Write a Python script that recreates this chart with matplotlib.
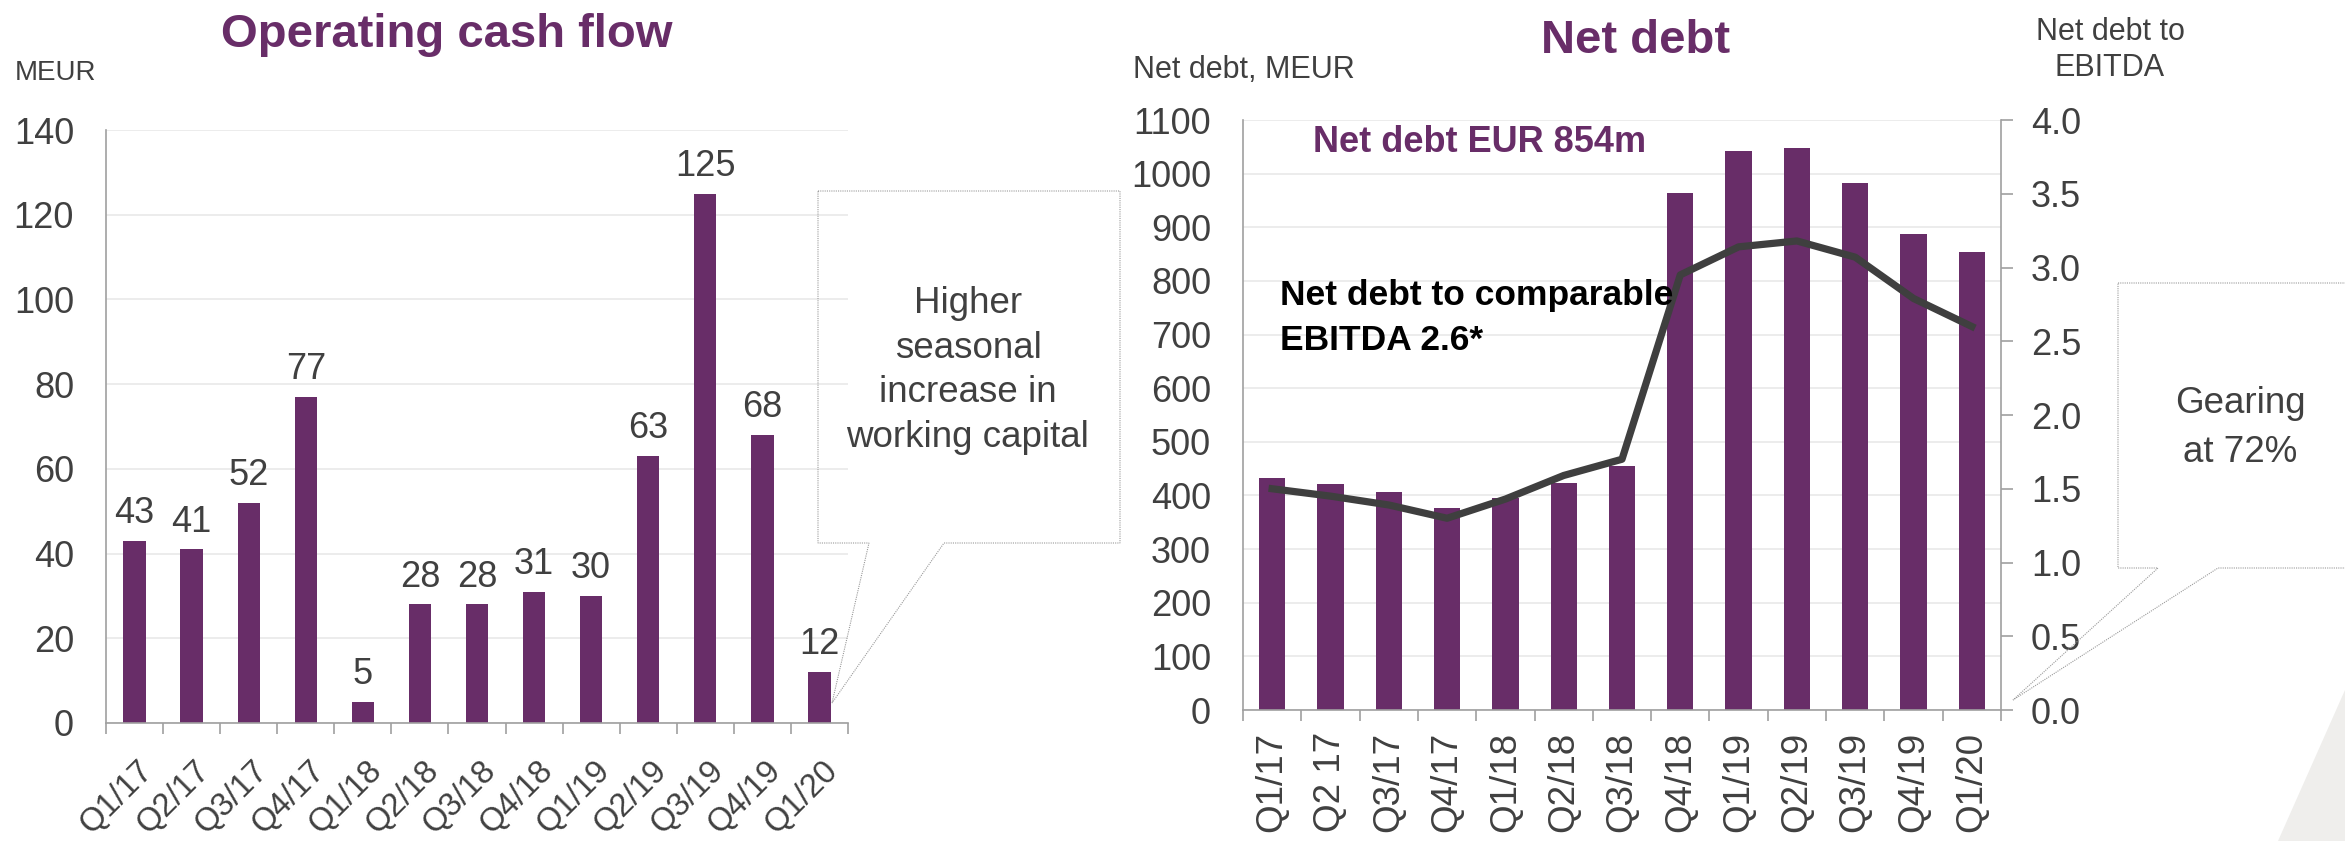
import numpy as np
import matplotlib.pyplot as plt
from matplotlib.patches import Polygon
from matplotlib.transforms import ScaledTranslation

plt.rcParams['font.family'] = ['Liberation Sans', 'DejaVu Sans']

# data
quarters_ocf = ['Q1/17', 'Q2/17', 'Q3/17', 'Q4/17', 'Q1/18', 'Q2/18', 'Q3/18',
                'Q4/18', 'Q1/19', 'Q2/19', 'Q3/19', 'Q4/19', 'Q1/20']
ocf = [43, 41, 52, 77, 5, 28, 28, 31, 30, 63, 125, 68, 12]

quarters_nd = ['Q1/17', 'Q2 17', 'Q3/17', 'Q4/17', 'Q1/18', 'Q2/18', 'Q3/18',
               'Q4/18', 'Q1/19', 'Q2/19', 'Q3/19', 'Q4/19', 'Q1/20']
net_debt = [432, 421, 406, 376, 395, 423, 455, 964, 1042, 1048, 983, 887, 854]
nd_ebitda = [1.50, 1.45, 1.39, 1.30, 1.43, 1.59, 1.70, 2.95, 3.14, 3.18, 3.07, 2.79, 2.60]
gearing = 72

W, H = 2345, 841
PURPLE = '#682D68'
TXT = '#404040'
AXC = '#A0A0A0'
GRID = '#EAEAEA'


def fx(x):
    return x / W


def fy(y):
    return 1 - y / H


def style(ax, n):
    ax.set_xlim(-0.5, n - 0.5)
    ax.set_xticks(range(n))
    ax.set_xticks(np.arange(n + 1) - 0.5, minor=True)
    ax.tick_params(axis='x', which='major', length=0)
    ax.tick_params(axis='x', which='minor', length=8, width=1.2, color=AXC)
    ax.tick_params(axis='y', length=0, labelsize=26, labelcolor=TXT, pad=23)
    ax.grid(axis='y', color=GRID, lw=1.3)
    ax.set_axisbelow(True)
    for s in ['top', 'right']:
        ax.spines[s].set_visible(False)
    for s in ['left', 'bottom']:
        ax.spines[s].set_color(AXC)
        ax.spines[s].set_linewidth(1.2)


fig = plt.figure(figsize=(W / 100, H / 100), dpi=100)

# ---- Operating cash flow
ax1 = fig.add_axes([fx(106), fy(723), (848 - 106) / W, (723 - 130) / H])
bars = ax1.bar(range(len(ocf)), ocf, width=0.39, color=PURPLE)
style(ax1, len(ocf))
ax1.set_ylim(0, 140)
ax1.set_yticks(range(0, 141, 20))
ax1.bar_label(bars, labels=[str(v) for v in ocf], padding=7, fontsize=26, color=TXT)
ax1.set_xticklabels(quarters_ocf, rotation=45, ha='right', va='top',
                    rotation_mode='anchor', fontsize=23.5, color=TXT)
ax1.tick_params(axis='x', which='major', pad=23)
for lab in ax1.get_xticklabels():
    lab.set_transform(lab.get_transform() + ScaledTranslation(0.03, 0, fig.dpi_scale_trans))

# ---- Net debt
ax2 = fig.add_axes([fx(1243), fy(710), (2001 - 1243) / W, (710 - 120) / H])
ax2.bar(range(len(net_debt)), net_debt, width=0.45, color=PURPLE)
style(ax2, len(net_debt))
ax2.set_ylim(0, 1100)
ax2.set_yticks(range(0, 1101, 100))
ax2.set_xticklabels(quarters_nd, rotation=90, ha='center', va='top', fontsize=26.5, color=TXT)
ax2.tick_params(axis='x', which='major', pad=16)

ax2r = ax2.twinx()
ax2r.plot(range(len(nd_ebitda)), nd_ebitda, color='#3F3F3F', lw=5.2)
ax2r.set_ylim(0, 4)
ax2r.set_yticks(np.arange(0, 4.01, 0.5))
ax2r.set_yticklabels([f'{v:.1f}' for v in np.arange(0, 4.01, 0.5)])
ax2r.tick_params(axis='y', length=8.5, width=1.2, color=AXC, pad=13,
                 labelsize=26, labelcolor=TXT)
for s in ['top', 'left', 'bottom']:
    ax2r.spines[s].set_visible(False)
ax2r.spines['right'].set_color(AXC)
ax2r.spines['right'].set_linewidth(1.2)

# ---- titles and labels
fig.text(fx(447), fy(47), 'Operating cash flow', ha='center', va='baseline',
         fontsize=34, fontweight='bold', color=PURPLE)
fig.text(fx(1636), fy(53), 'Net debt', ha='center', va='baseline',
         fontsize=34, fontweight='bold', color=PURPLE)
fig.text(fx(15), fy(73), 'MEUR', ha='left', va='center', fontsize=20, color=TXT)
fig.text(fx(1133), fy(70), 'Net debt, MEUR', ha='left', va='center', fontsize=22, color=TXT)
fig.text(fx(2110), fy(32), 'Net debt to', ha='center', va='center', fontsize=22, color=TXT)
fig.text(fx(2110), fy(68), 'EBITDA', ha='center', va='center', fontsize=22, color=TXT)
fig.text(fx(1313), fy(152), f'Net debt EUR {net_debt[-1]}m', ha='left', va='baseline',
         fontsize=26, fontweight='bold', color=PURPLE)
fig.text(fx(1280), fy(305), 'Net debt to comparable', ha='left', va='baseline',
         fontsize=25.5, fontweight='bold', color='black')
fig.text(fx(1280), fy(350), f'EBITDA {nd_ebitda[-1]:.1f}*', ha='left', va='baseline',
         fontsize=25.5, fontweight='bold', color='black')

# ---- callouts
def callout(pts):
    poly = Polygon([(fx(x), fy(y)) for x, y in pts], closed=True, fill=False,
                   edgecolor='#9A9A9A', lw=0.8, linestyle=(0, (1, 1)),
                   transform=fig.transFigure)
    fig.add_artist(poly)


callout([(818, 191), (1120, 191), (1120, 543), (944, 543), (832, 703),
         (869, 543), (818, 543)])
for i, line in enumerate(['Higher', 'seasonal', 'increase in', 'working capital']):
    fig.text(fx(968), fy(313 + 44.7 * i), line, ha='center', va='baseline',
             fontsize=26.5, color=TXT)

callout([(2118, 283), (2400, 283), (2400, 568), (2218, 568), (2013, 700),
         (2158, 568), (2118, 568)])
for i, line in enumerate(['Gearing', f'at {gearing}%']):
    fig.text(fx(2240), fy(413 + 49 * i), line, ha='center', va='baseline',
             fontsize=26.5, color=TXT)

# grey corner shape of the slide
fig.add_artist(Polygon([(fx(2278), fy(841)), (fx(2345), fy(690)), (fx(2345), fy(841))],
                       closed=True, facecolor='#EFEEEC', edgecolor='none',
                       transform=fig.transFigure))

fig.savefig('out.png', dpi=100)
